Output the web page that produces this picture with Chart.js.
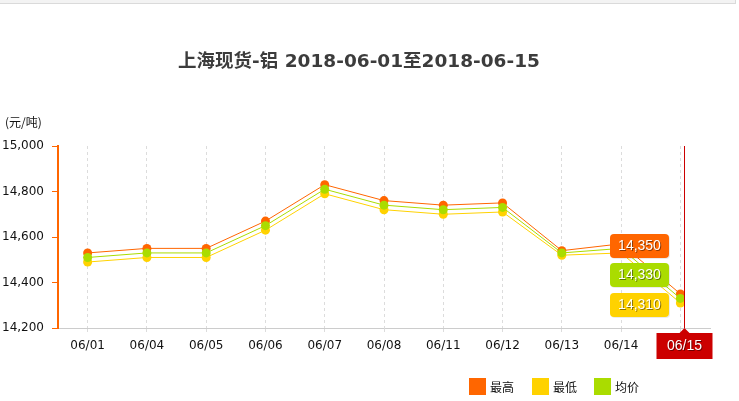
<!DOCTYPE html>
<html>
<head>
<meta charset="utf-8">
<title>上海现货-铝</title>
<script src="https://cdn.jsdelivr.net/npm/chart.js@4/dist/chart.umd.min.js"></script>
<style>
  html, body { margin: 0; padding: 0; background: #fff; }
  #wrap { width: 739px; height: 401px; position: relative; }
</style>
</head>
<body>
<div id="wrap"><canvas id="c" width="739" height="401"></canvas></div>
<script>
// Trading days and daily aluminium spot prices (元/吨)
const categories = ['06/01', '06/04', '06/05', '06/06', '06/07', '06/08', '06/11', '06/12', '06/13', '06/14', '06/15'];
const highPrices = [14530, 14550, 14550, 14670, 14830, 14760, 14740, 14750, 14540, 14570, 14350];
const lowPrices  = [14490, 14510, 14510, 14630, 14790, 14720, 14700, 14710, 14520, 14530, 14310];
const avgPrices  = [14510, 14530, 14530, 14650, 14810, 14740, 14720, 14730, 14530, 14550, 14330];
const yTicks = [14200, 14400, 14600, 14800, 15000];
const seriesNames = ['最高', '最低', '均价'];
const titleText = '上海现货-铝 2018-06-01至2018-06-15';
const unitText = '(元/吨)';
const focusIndex = 10; // the day highlighted by the crosshair

const COLORS = { high: '#FF6600', low: '#FFD200', avg: '#AADC00' };
const LATIN = '"DejaVu Sans", "Noto Sans CJK SC", sans-serif';
const CJK = '"Noto Sans CJK SC", "DejaVu Sans", sans-serif';

const fmt = v => v.toLocaleString('en-US');

function roundRect(ctx, x, y, w, h, r) {
  ctx.beginPath();
  ctx.moveTo(x + r, y);
  ctx.lineTo(x + w - r, y);
  ctx.quadraticCurveTo(x + w, y, x + w, y + r);
  ctx.lineTo(x + w, y + h - r);
  ctx.quadraticCurveTo(x + w, y + h, x + w - r, y + h);
  ctx.lineTo(x + r, y + h);
  ctx.quadraticCurveTo(x, y + h, x, y + h - r);
  ctx.lineTo(x, y + r);
  ctx.quadraticCurveTo(x, y, x + r, y);
  ctx.closePath();
}

function shadowText(ctx, text, x, y) {
  ctx.fillStyle = 'rgba(0,0,0,0.45)';
  ctx.fillText(text, x + 1, y + 1);
  ctx.fillStyle = '#fff';
  ctx.fillText(text, x, y);
}

// Page frame, title, unit caption, legend, crosshair and value flags
const decorations = {
  id: 'decorations',
  beforeDraw(chart) {
    const ctx = chart.ctx;
    ctx.save();
    ctx.fillStyle = '#f3f3f3';
    ctx.fillRect(0, 0, 736, 3);
    ctx.strokeStyle = '#dadada';
    ctx.lineWidth = 1;
    ctx.beginPath();
    ctx.moveTo(0, 3.5); ctx.lineTo(736, 3.5);
    ctx.moveTo(735.5, 0); ctx.lineTo(735.5, 4);
    ctx.stroke();

    ctx.fillStyle = '#3c3c3c';
    ctx.font = 'bold 18.5px ' + LATIN;
    ctx.textAlign = 'center';
    ctx.textBaseline = 'middle';
    ctx.fillText(titleText, 359, 62);

    ctx.fillStyle = '#111';
    ctx.font = '12px ' + CJK;
    ctx.textAlign = 'left';
    ctx.fillText(unitText, 5, 122);
    ctx.restore();
  },
  afterDraw(chart) {
    const ctx = chart.ctx;
    const area = chart.chartArea;
    const xs = chart.scales.x;
    const ys = chart.scales.y;
    const px = xs.getPixelForValue(focusIndex);
    ctx.save();

    // crosshair
    const cx = Math.round(px + 4) + 0.5;
    ctx.strokeStyle = '#CC0000';
    ctx.lineWidth = 1;
    ctx.beginPath();
    ctx.moveTo(cx, area.top);
    ctx.lineTo(cx, area.bottom);
    ctx.stroke();

    // category flag under the axis
    const bw = 56, bh = 26, by = area.bottom + 5;
    const bx = cx - bw / 2;
    ctx.fillStyle = '#CC0000';
    ctx.beginPath();
    ctx.moveTo(bx, by);
    ctx.lineTo(cx - 5, by);
    ctx.lineTo(cx, by - 5);
    ctx.lineTo(cx + 5, by);
    ctx.lineTo(bx + bw, by);
    ctx.lineTo(bx + bw, by + bh);
    ctx.lineTo(bx, by + bh);
    ctx.closePath();
    ctx.fill();
    ctx.font = '14px "Liberation Sans", "DejaVu Sans", sans-serif';
    ctx.textAlign = 'center';
    ctx.textBaseline = 'middle';
    shadowText(ctx, categories[focusIndex], cx, by + bh / 2);

    // stacked value flags for the focused day
    const ds = chart.data.datasets;
    const lowY = ys.getPixelForValue(ds[1].data[focusIndex]);
    const flags = [
      { ds: ds[1], cy: lowY + 2 },
      { ds: ds[2], cy: lowY + 2 - 29.5 },
      { ds: ds[0], cy: lowY + 2 - 59 }
    ];
    const fw = 59, fh = 24;
    const fx = Math.round(px - 11 - fw);
    flags.forEach(f => {
      const fy = Math.round(f.cy - fh / 2);
      ctx.fillStyle = 'rgba(0,0,0,0.08)';
      roundRect(ctx, fx + 1, fy + 1, fw, fh, 4);
      ctx.fill();
      ctx.fillStyle = f.ds.borderColor;
      roundRect(ctx, fx, fy, fw, fh, 4);
      ctx.fill();
      ctx.font = '14px "Liberation Sans", "DejaVu Sans", sans-serif';
      shadowText(ctx, fmt(f.ds.data[focusIndex]), fx + fw / 2, fy + fh / 2);
    });

    // legend
    const legendX = [469, 532, 594];
    ctx.font = '12px ' + CJK;
    ctx.textAlign = 'left';
    ctx.textBaseline = 'middle';
    ds.forEach((d, i) => {
      ctx.fillStyle = d.borderColor;
      ctx.fillRect(legendX[i], 378, 17, 17);
      ctx.fillStyle = '#111';
      ctx.fillText(d.label, legendX[i] + 21, 387);
    });
    ctx.restore();
  }
};

function series(label, data, color) {
  return {
    label, data,
    borderColor: color,
    backgroundColor: color,
    borderWidth: 1,
    pointRadius: 4.5,
    pointBorderWidth: 0,
    pointBackgroundColor: color,
    tension: 0,
    fill: false
  };
}

new Chart(document.getElementById('c'), {
  type: 'line',
  data: {
    labels: categories,
    datasets: [
      Object.assign(series(seriesNames[0], highPrices, COLORS.high), { order: 3 }),
      Object.assign(series(seriesNames[1], lowPrices, COLORS.low), { order: 2 }),
      Object.assign(series(seriesNames[2], avgPrices, COLORS.avg), { order: 1 })
    ]
  },
  options: {
    responsive: false,
    animation: false,
    devicePixelRatio: 1,
    layout: { padding: { top: 146, right: 29, bottom: 33, left: 0 } },
    plugins: {
      legend: { display: false },
      title: { display: false },
      tooltip: { enabled: false }
    },
    events: [],
    scales: {
      x: {
        type: 'category',
        offset: true,
        afterFit(scale) { scale.height = 40; },
        grid: {
          display: true,
          color: '#dcdcdc',
          lineWidth: 1,
          drawOnChartArea: true,
          drawTicks: true,
          tickLength: 5,
          tickColor: '#dcdcdc',
          tickBorderDash: [3, 3]
        },
        border: { display: true, color: '#cccccc', width: 1, dash: [3, 3] },
        ticks: {
          color: '#111',
          font: { family: LATIN, size: 12 },
          padding: 6,
          maxRotation: 0,
          autoSkip: false
        }
      },
      y: {
        min: yTicks[0],
        max: yTicks[yTicks.length - 1],
        afterFit(scale) { scale.width = 58; },
        afterBuildTicks(scale) { scale.ticks = yTicks.map(v => ({ value: v })); },
        grid: {
          display: true,
          drawOnChartArea: false,
          drawTicks: true,
          tickLength: 6,
          tickColor: '#FF6600',
          color: '#FF6600'
        },
        border: { display: true, color: '#FF6600', width: 2 },
        ticks: {
          color: '#111',
          font: { family: LATIN, size: 12 },
          padding: 8,
          callback: v => fmt(v)
        }
      }
    }
  },
  plugins: [decorations]
});
</script>
</body>
</html>
